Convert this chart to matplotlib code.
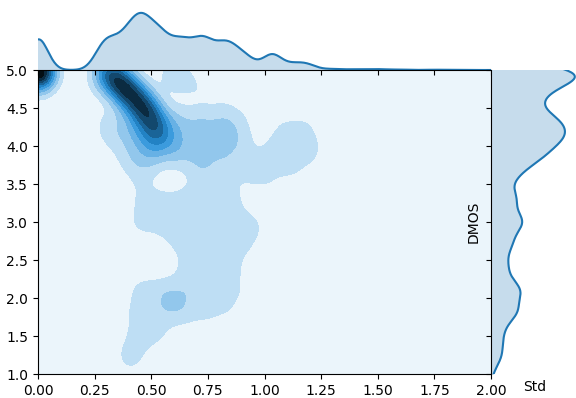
import colorsys
import numpy as np
import matplotlib
matplotlib.use('Agg')
import matplotlib.pyplot as plt
from matplotlib.colors import LinearSegmentedColormap, to_rgb
from matplotlib.ticker import MultipleLocator

# Points: (std, dmos, count)
# corner spot: full agreement on the best score
corner_std = [0.0, 0.0, 0.03]
corner_dmos = [5.0, 4.85, 4.95]
corner_n = [8.2, 1.8, 1.4]

# dense ridge
ridge_std = [0.30, 0.335, 0.37, 0.405, 0.44, 0.47, 0.495, 0.515, 0.53, 0.54, 0.55,
             0.38, 0.42, 0.47]
ridge_dmos = [5.0, 4.9, 4.8, 4.7, 4.6, 4.5, 4.4, 4.3, 4.2, 4.1, 4.0,
              4.4, 4.2, 4.05]
ridge_n = [2.8, 3.4, 3.6, 3.4, 3.1, 2.9, 2.6, 2.0, 1.8, 1.4, 0.8,
           0.6, 1.5, 1.3]

# upper part, DMOS 3.6 - 5
upper_std = [0.58, 0.68, 0.25, 0.62, 0.72, 0.82,
             0.3, 0.62, 0.72, 0.82, 0.9,
             0.33, 0.62, 0.72, 0.82, 0.9,
             0.4, 0.5, 0.62, 0.72, 0.82, 0.92,
             0.45, 0.72, 0.82, 0.95]
upper_dmos = [4.97, 4.95, 4.75, 4.85, 4.7, 4.55,
              4.3, 4.35, 4.3, 4.3, 4.38,
              4.1, 4.1, 4.1, 4.1, 4.1,
              3.85, 3.85, 3.88, 3.85, 3.88, 3.82,
              3.62, 3.6, 3.6, 3.62]
upper_n = [0.8, 0.4, 0.4, 0.9, 0.7, 0.5,
           0.8, 1.25, 1.25, 1.15, 0.6,
           0.9, 1.25, 1.25, 1.2, 0.9,
           1.1, 1.35, 1.35, 1.3, 1.0, 0.8,
           0.9, 1.0, 1.0, 0.8]

# right lobe
lobe_std = [1.02, 1.12, 1.2, 1.05, 1.15, 1.18, 1.08]
lobe_dmos = [3.75, 3.7, 3.9, 4.0, 4.05, 4.25, 4.28]
lobe_n = [0.9, 0.9, 0.9, 0.9, 0.9, 0.75, 0.7]

# lower body, DMOS 1.1 - 3.4
lower_std = [0.47, 0.57, 0.67, 0.77, 0.86,
             0.46, 0.56, 0.66, 0.76, 0.86, 0.93,
             0.6, 0.7, 0.8, 0.9,
             0.66, 0.76, 0.86,
             0.46, 0.56, 0.66, 0.76, 0.86,
             0.6,
             0.44, 0.54, 0.64, 0.74, 0.84,
             0.44, 0.53, 0.42, 0.4]
lower_dmos = [3.3, 3.3, 3.3, 3.3, 3.3,
              3.0, 3.0, 3.0, 3.0, 3.0, 2.95,
              2.7, 2.7, 2.7, 2.7,
              2.4, 2.4, 2.4,
              2.1, 2.1, 2.1, 2.1, 2.1,
              1.92,
              1.8, 1.8, 1.8, 1.8, 1.8,
              1.5, 1.5, 1.28, 1.15]
lower_n = [1.0, 0.85, 1.0, 0.95, 0.85,
           1.1, 1.15, 1.1, 1.05, 1.0, 0.8,
           0.7, 1.0, 0.95, 0.9,
           0.9, 0.95, 0.9,
           1.1, 1.2, 1.15, 1.1, 0.95,
           0.6,
           1.0, 1.0, 1.0, 0.85, 0.65,
           0.9, 0.8, 0.75, 0.6]

# thin scatter around the body (below the first contour)
side_std = [0.28, 0.28, 0.28, 0.28, 0.28, 0.28, 0.28, 0.28,
            1.03, 1.03, 1.03, 1.03, 1.03, 1.03, 1.03, 1.03,
            0.72]
side_dmos = [1.3, 1.6, 1.9, 2.2, 2.5, 2.8, 3.1, 3.45,
             1.3, 1.6, 1.9, 2.2, 2.5, 2.8, 3.1, 3.4,
             1.2]
side_n = [0.45, 0.4, 0.5, 0.5, 0.4, 0.5, 0.5, 0.6,
          0.35, 0.4, 0.45, 0.45, 0.4, 0.45, 0.5, 0.5,
          0.45]

# sparse tail of large std
tail_std = [1.3, 1.4, 1.5, 1.6, 1.75, 1.85]
tail_dmos = [4.1, 4.6, 3.9, 4.3, 3.7, 4.0]
tail_n = [0.35, 0.25, 0.3, 0.15, 0.1, 0.06]

std = np.array(corner_std + ridge_std + upper_std + lobe_std + lower_std + side_std + tail_std)
dmos = np.array(corner_dmos + ridge_dmos + upper_dmos + lobe_dmos + lower_dmos + side_dmos + tail_dmos)
w = np.array(corner_n + ridge_n + upper_n + lobe_n + lower_n + side_n + tail_n)

# kernel widths
bw_x, bw_y = 0.05, 0.16
bw_x1, bw_y1 = 0.04, 0.14

color = '#1f77b4'

# white -> color -> black, like the old seaborn jointplot
h, l, s = colorsys.rgb_to_hls(*to_rgb(color))
cmap = LinearSegmentedColormap.from_list(
    'joint', [colorsys.hls_to_rgb(h, li, s) for li in np.linspace(1, 0, 12)])

# 2d density on a grid
gx = np.linspace(-0.2, 2.1, 260)
gy = np.linspace(0.6, 5.4, 260)
xx, yy = np.meshgrid(gx, gy)
z = np.zeros_like(xx)
for xi, yi, wi in zip(std, dmos, w):
    z += wi * np.exp(-0.5 * ((xx - xi) / bw_x) ** 2 - 0.5 * ((yy - yi) / bw_y) ** 2)

# 1d densities for the margins
mx = np.linspace(-0.2, 2.1, 500)
my = np.linspace(0.5, 5.5, 500)
dx = (w[None, :] * np.exp(-0.5 * ((mx[:, None] - std[None, :]) / bw_x1) ** 2)).sum(1)
dy = (w[None, :] * np.exp(-0.5 * ((my[:, None] - dmos[None, :]) / bw_y1) ** 2)).sum(1)

fig = plt.figure(figsize=(5.76, 3.98), dpi=100)
ax = fig.add_axes([38 / 576, 24 / 398, 453 / 576, 304 / 398])
ax_x = fig.add_axes([38 / 576, 328 / 398, 453 / 576, 60 / 398], sharex=ax)
ax_y = fig.add_axes([491 / 576, 24 / 398, 88 / 576, 304 / 398], sharey=ax)

ax.contourf(xx, yy, z, levels=np.linspace(0, z.max(), 11), cmap=cmap)

ax_x.fill_between(mx, 0, dx, color=color, alpha=0.25, lw=0)
ax_x.plot(mx, dx, color=color, lw=1.5)
ax_x.set_ylim(0, dx.max() * 1.05)

ax_y.fill_betweenx(my, 0, dy, color=color, alpha=0.25, lw=0)
ax_y.plot(dy, my, color=color, lw=1.5)
ax_y.set_xlim(0, dy.max() * 1.05)

ax.set_xlim(0, 2)
ax.set_ylim(1, 5)
ax.xaxis.set_major_locator(MultipleLocator(0.25))
ax.yaxis.set_major_locator(MultipleLocator(0.5))

for a in [ax, ax_x, ax_y]:
    a.spines['top'].set_visible(False)
    a.spines['right'].set_visible(False)
ax_x.spines['left'].set_visible(False)
ax_y.spines['bottom'].set_visible(False)
ax_x.tick_params(axis='x', labelbottom=False)
ax_x.tick_params(axis='y', left=False, labelleft=False)
ax_y.tick_params(axis='y', labelleft=False)
ax_y.tick_params(axis='x', bottom=False, labelbottom=False)

# labels land on the right margin axes
ax_y.set_xlabel('Std')
ax_y.set_ylabel('DMOS')

plt.savefig('out.png', dpi=100)
